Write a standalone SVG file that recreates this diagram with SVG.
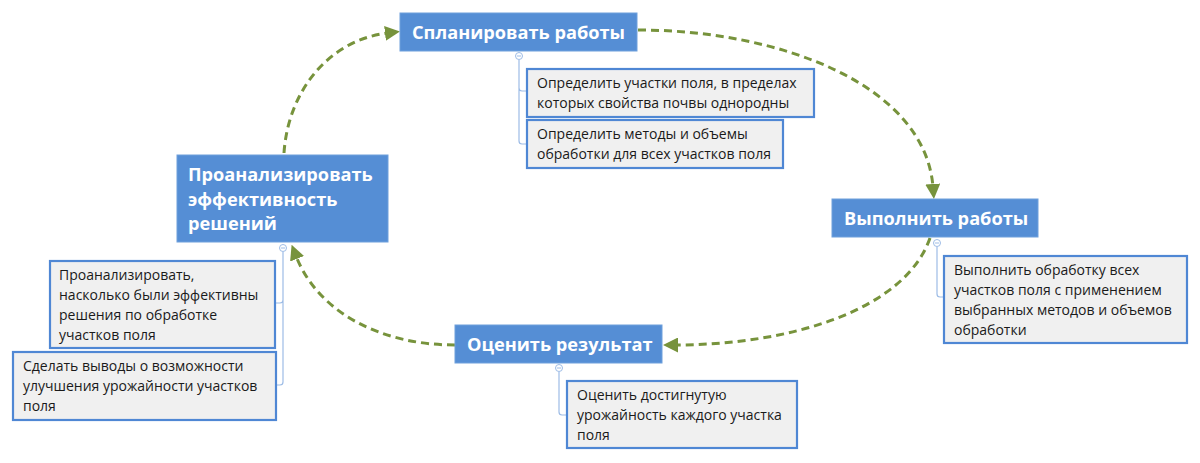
<svg xmlns="http://www.w3.org/2000/svg" width="1200" height="463" viewBox="0 0 1200 463">
<style>
.main rect{fill:#558ED5;stroke:#6FA0DC;stroke-width:1}
.main text{font-family:"Open Sans","Noto Sans","DejaVu Sans",sans-serif;font-weight:bold;font-size:18.2px;fill:#FFFFFF}
.sub rect{fill:#F0F0F0;stroke:#4F87D4;stroke-width:2.2}
.sub text{font-family:"Open Sans","Noto Sans","DejaVu Sans",sans-serif;font-size:14px;fill:#1A1A1A}
.br{fill:none;stroke:#9DBCE6;stroke-width:1.2}
.cc circle{fill:#FFFFFF;stroke:#9DBCE6;stroke-width:1}
.cc line{stroke:#9DBCE6;stroke-width:1}
.con path{fill:none;stroke:#77933C;stroke-width:3;stroke-dasharray:8 5;marker-end:url(#arr)}
</style>
<defs>
<marker id="arr" markerUnits="userSpaceOnUse" markerWidth="15" markerHeight="15" viewBox="0 0 15 15" refX="3" refY="7.5" orient="auto">
<path d="M0,0 L15,7.5 L0,15 Z" fill="#77933C"/>
</marker>
</defs>

<g id="connectors" class="con">
<path d="M638,30 C780,30 925,85 933,187"/>
<path d="M930,238 C905,310 790,345 675,345"/>
<path d="M455,345 C380,345 318,312 296,256"/>
<path d="M284,153 C288,92 328,40 388,33"/>
</g>

<g id="brackets">
<path class="br" d="M519,60 V88 Q519,91 522,91 H527 M519,88 V141 Q519,144 522,144 H527"/>
<path class="br" d="M283,252 V300 Q283,303 280,303 H275 M283,300 V382 Q283,385 280,385 H276"/>
<path class="br" d="M937,247 V294 Q937,297 940,297 H944"/>
<path class="br" d="M559,372 V412 Q559,415 562,415 H567"/>
</g>

<g id="node-plan">
<g class="main"><rect x="400" y="13" width="237" height="38"/><text x="412" y="39">Спланировать работы</text></g>
<g class="cc"><circle cx="519" cy="56" r="3.5"/><line x1="517" y1="56" x2="521" y2="56"/></g>
</g>
<g id="node-plan-1" class="sub">
<rect x="527" y="69" width="287" height="48"/>
<text x="537" y="88">Определить участки поля, в пределах</text>
<text x="537" y="107.5">которых свойства почвы однородны</text>
</g>
<g id="node-plan-2" class="sub">
<rect x="527" y="120" width="256" height="48"/>
<text x="537" y="139">Определить методы и объемы</text>
<text x="537" y="158.5">обработки для всех участков поля</text>
</g>

<g id="node-do">
<g class="main"><rect x="832" y="199" width="206" height="38"/><text x="844" y="225">Выполнить работы</text></g>
<g class="cc"><circle cx="937" cy="243" r="3.5"/><line x1="935" y1="243" x2="939" y2="243"/></g>
</g>
<g id="node-do-1" class="sub">
<rect x="944" y="256" width="243" height="87"/>
<text x="954" y="275">Выполнить обработку всех</text>
<text x="954" y="295">участков поля с применением</text>
<text x="954" y="315">выбранных методов и объемов</text>
<text x="954" y="335">обработки</text>
</g>

<g id="node-eval">
<g class="main"><rect x="455" y="325" width="207" height="38"/><text x="467" y="351">Оценить результат</text></g>
<g class="cc"><circle cx="559" cy="368" r="3.5"/><line x1="557" y1="368" x2="561" y2="368"/></g>
</g>
<g id="node-eval-1" class="sub">
<rect x="567" y="381" width="230" height="67"/>
<text x="577" y="400">Оценить достигнутую</text>
<text x="577" y="420">урожайность каждого участка</text>
<text x="577" y="440">поля</text>
</g>

<g id="node-analyze">
<g class="main"><rect x="177" y="155" width="211" height="87"/>
<text x="188" y="181">Проанализировать</text>
<text x="188" y="205.5">эффективность</text>
<text x="188" y="230">решений</text></g>
<g class="cc"><circle cx="283" cy="248" r="3.5"/><line x1="281" y1="248" x2="285" y2="248"/></g>
</g>
<g id="node-analyze-1" class="sub">
<rect x="50" y="261" width="225" height="87"/>
<text x="59" y="280">Проанализировать,</text>
<text x="59" y="300">насколько были эффективны</text>
<text x="59" y="320">решения по обработке</text>
<text x="59" y="340">участков поля</text>
</g>
<g id="node-analyze-2" class="sub">
<rect x="13" y="352" width="263" height="68"/>
<text x="23" y="371">Сделать выводы о возможности</text>
<text x="23" y="391">улучшения урожайности участков</text>
<text x="23" y="411">поля</text>
</g>
</svg>
